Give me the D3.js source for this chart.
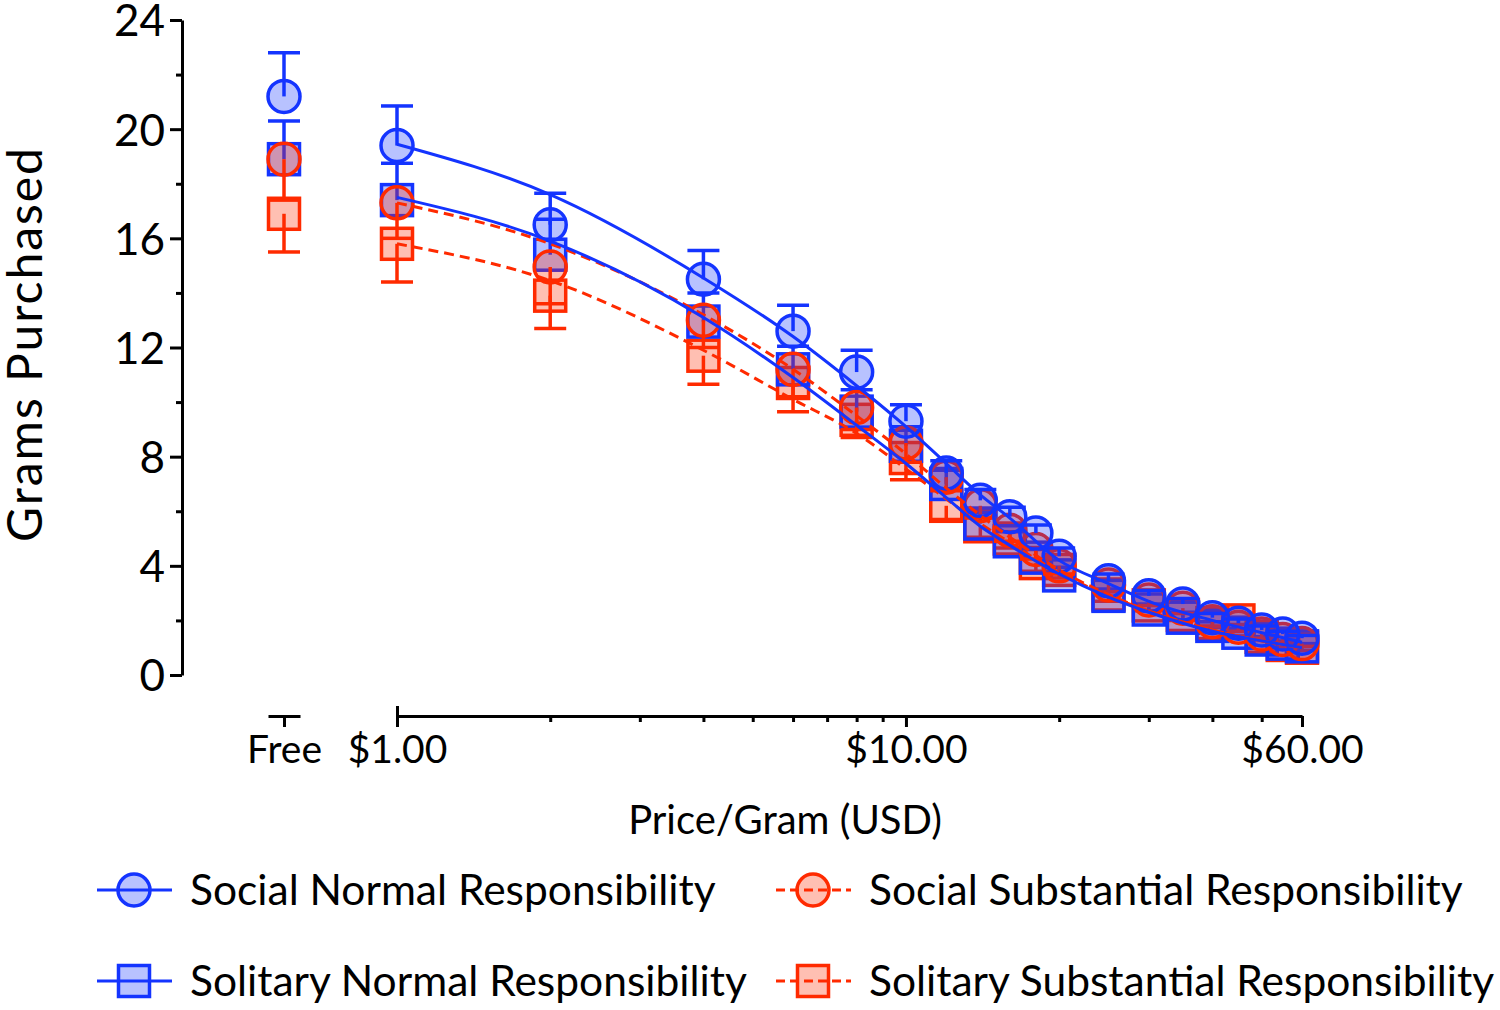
<!DOCTYPE html>
<html>
<head>
<meta charset="utf-8">
<script src="https://cdn.jsdelivr.net/npm/d3@7"></script>
<style>
  html, body { margin: 0; padding: 0; background: #fff; }
  svg { display: block; }
  text { font-family: Lato, "Open Sans", sans-serif; fill: #000; }
</style>
</head>
<body>
<svg id="chart" width="1500" height="1010"></svg>
<script>
// ---------------- DATA ----------------
const freeCategory = ["Free"];
const prices = [1, 2, 4, 6, 8, 10, 12, 14, 16, 18, 20, 25, 30, 35, 40, 45, 50, 55, 60];
const xTickValues = [1, 10, 60];
const xTickLabels = ["$1.00", "$10.00", "$60.00"];
const xMinorTicks = [2, 3, 4, 5, 6, 7, 8, 9, 20, 30, 40, 50];
const yTickValues = [0, 4, 8, 12, 16, 20, 24];
const yMinorTicks = [2, 6, 10, 14, 18, 22];

const seriesNames = [
  "Social Normal Responsibility",
  "Social Substantial Responsibility",
  "Solitary Normal Responsibility",
  "Solitary Substantial Responsibility"
];

// Means (grams) — Free value, then one per price
const socialNormalFree = 21.2;
const socialNormal = [19.4, 16.5, 14.5, 12.6, 11.1, 9.3, 7.4, 6.4, 5.8, 5.2, 4.35, 3.45, 2.9, 2.6, 2.1, 1.9, 1.65, 1.5, 1.35];
const solitaryNormalFree = 18.9;
const solitaryNormal = [17.4, 15.4, 12.95, 11.2, 9.65, 8.4, 7.0, 5.55, 4.9, 4.3, 3.65, 2.9, 2.4, 2.1, 1.8, 1.55, 1.3, 1.15, 1.05];
const socialSubstantialFree = 18.9;
const socialSubstantial = [17.3, 14.95, 13.0, 11.2, 9.8, 8.5, 7.25, 6.2, 5.3, 4.6, 4.0, 3.3, 2.75, 2.45, 1.95, 1.75, 1.5, 1.3, 1.15];
const solitarySubstantialFree = 16.9;
const solitarySubstantial = [15.8, 13.9, 11.7, 10.7, 9.35, 7.95, 6.2, 5.45, 5.0, 4.1, 3.85, 2.95, 2.55, 2.2, 1.9, 2.0, 1.4, 1.1, 1.0];

// SEM (grams)
const socialNormalFreeSem = 1.6;
const socialNormalSem = [1.45, 1.15, 1.05, 0.95, 0.8, 0.6, 0.45, 0.4, 0.35, 0.3, 0.3, 0.25, 0.2, 0.2, 0.15, 0.15, 0.15, 0.1, 0.1];
const solitaryNormalFreeSem = 1.4;
const solitaryNormalSem = [1.35, 1.3, 1.05, 0.85, 0.8, 0.7, 0.5, 0.4, 0.35, 0.3, 0.3, 0.25, 0.2, 0.2, 0.15, 0.15, 0.1, 0.1, 0.1];
const socialSubstantialFreeSem = 1.5;
const socialSubstantialSem = [1.3, 1.35, 1.0, 1.0, 0.8, 0.7, 0.5, 0.45, 0.4, 0.35, 0.3, 0.25, 0.2, 0.2, 0.15, 0.15, 0.15, 0.1, 0.1];
const solitarySubstantialFreeSem = 1.4;
const solitarySubstantialSem = [1.4, 1.2, 1.05, 1.05, 0.65, 0.8, 0.5, 0.4, 0.35, 0.3, 0.3, 0.25, 0.2, 0.2, 0.15, 0.15, 0.1, 0.1, 0.1];

// Fitted demand curves
const fitPrices = [1, 2, 4, 6, 8, 10, 12, 14, 16, 20, 25, 30, 40, 50, 60];
const socialNormalFit = [19.45, 17.6, 14.55, 12.4, 10.6, 9.1, 7.75, 6.6, 5.75, 4.2, 3.35, 2.7, 2.0, 1.55, 1.2];
const solitaryNormalFit = [17.5, 15.9, 13.1, 10.9, 9.15, 7.75, 6.5, 5.45, 4.75, 3.7, 2.85, 2.3, 1.6, 1.25, 1.0];
const socialSubstantialFit = [17.3, 15.8, 13.2, 11.2, 9.5, 8.1, 6.85, 5.85, 5.05, 3.85, 2.95, 2.35, 1.65, 1.25, 1.0];
const solitarySubstantialFit = [15.8, 14.45, 11.9, 10.1, 8.85, 7.55, 6.45, 5.55, 4.85, 3.75, 2.9, 2.35, 1.65, 1.25, 1.0];

// ---------------- STYLE ----------------
const BLUE = "#1434ff";
const RED = "#ff2a00";

const series = [
  { name: seriesNames[3], shape: "square", color: RED, dash: true, dir: 1,
    free: solitarySubstantialFree, freeSem: solitarySubstantialFreeSem, vals: solitarySubstantial, sem: solitarySubstantialSem, fit: solitarySubstantialFit },
  { name: seriesNames[2], shape: "square", color: BLUE, dash: false, dir: -1,
    free: solitaryNormalFree, freeSem: solitaryNormalFreeSem, vals: solitaryNormal, sem: solitaryNormalSem, fit: solitaryNormalFit },
  { name: seriesNames[1], shape: "circle", color: RED, dash: true, dir: 1,
    free: socialSubstantialFree, freeSem: socialSubstantialFreeSem, vals: socialSubstantial, sem: socialSubstantialSem, fit: socialSubstantialFit },
  { name: seriesNames[0], shape: "circle", color: BLUE, dash: false, dir: -1,
    free: socialNormalFree, freeSem: socialNormalFreeSem, vals: socialNormal, sem: socialNormalSem, fit: socialNormalFit }
];

// ---------------- SCALES ----------------
const svg = d3.select("#chart");
const y = d3.scaleLinear().domain([0, 24]).range([675, 20]);
const x = d3.scaleLog().domain([1, 60]).range([397, 1302]);
const xFree = d3.scalePoint().domain(freeCategory).range([268, 300]).padding(0.5);

const AX = 3;

// ---------------- AXES ----------------
const yAxisG = svg.append("g").attr("transform", "translate(182,0)")
  .call(d3.axisLeft(y).tickValues(yTickValues).tickSize(12).tickSizeOuter(0).tickPadding(5));
yAxisG.selectAll("text").style("font-size", "44px").attr("dy", "0.36em");
const yMinorG = svg.append("g").attr("transform", "translate(182,0)")
  .call(d3.axisLeft(y).tickValues(yMinorTicks).tickSize(6).tickFormat(""));
yMinorG.select(".domain").remove();

const xAxisG = svg.append("g").attr("transform", "translate(0,716)")
  .call(d3.axisBottom(x).tickValues(xTickValues).tickSize(11).tickSizeOuter(0).tickPadding(8)
    .tickFormat(d => xTickLabels[xTickValues.indexOf(d)]));
xAxisG.selectAll("text").style("font-size", "39px");
const xMinorG = svg.append("g").attr("transform", "translate(0,716)")
  .call(d3.axisBottom(x).tickValues(xMinorTicks).tickSize(6).tickFormat(""));
xMinorG.select(".domain").remove();
const xTopG = svg.append("g").attr("transform", "translate(0,716)")
  .call(d3.axisTop(x).tickValues([1]).tickSize(10).tickFormat(""));
xTopG.select(".domain").remove();

const freeAxisG = svg.append("g").attr("transform", "translate(0,716)")
  .call(d3.axisBottom(xFree).tickSize(11).tickSizeOuter(0).tickPadding(8));
freeAxisG.selectAll("text").style("font-size", "39px");

svg.selectAll(".domain, .tick line").attr("stroke", "#000").attr("stroke-width", AX);
svg.selectAll(".tick text").attr("fill", "#000");

// Axis titles
svg.append("text").attr("transform", "translate(42,345) rotate(-90)")
  .attr("text-anchor", "middle").style("font-size", "48px")
  .attr("textLength", 394).attr("lengthAdjust", "spacing").text("Grams Purchased");
svg.append("text").attr("x", 785).attr("y", 834)
  .attr("text-anchor", "middle").style("font-size", "40px").text("Price/Gram (USD)");

// ---------------- MARKS ----------------
const plot = svg.append("g");
const R = 16, S = 31, CAP = 16;

function drawMarker(g, shape, color, cx, cy) {
  if (shape === "circle") {
    g.append("circle").attr("cx", cx).attr("cy", cy).attr("r", R)
      .attr("fill", color).attr("fill-opacity", 0.3)
      .attr("stroke", color).attr("stroke-width", 3.5);
  } else {
    g.append("rect").attr("x", cx - S / 2).attr("y", cy - S / 2).attr("width", S).attr("height", S)
      .attr("fill", color).attr("fill-opacity", 0.3)
      .attr("stroke", color).attr("stroke-width", 3.5);
  }
}

series.forEach(s => {
  const g = plot.append("g");
  const pts = [{ px: xFree("Free"), v: s.free, e: s.freeSem }]
    .concat(prices.map((p, i) => ({ px: x(p), v: s.vals[i], e: s.sem[i] })));
  pts.forEach(d => {
    const y0 = y(d.v), y1 = y(d.v - s.dir * d.e);
    g.append("line").attr("x1", d.px).attr("x2", d.px).attr("y1", y0).attr("y2", y1)
      .attr("stroke", s.color).attr("stroke-width", 3.5);
    g.append("line").attr("x1", d.px - CAP).attr("x2", d.px + CAP).attr("y1", y1).attr("y2", y1)
      .attr("stroke", s.color).attr("stroke-width", 3.5);
  });
  pts.forEach(d => drawMarker(g, s.shape, s.color, d.px, y(d.v)));
});

// Fitted curves on top
const line = d3.line().x(d => x(d[0])).y(d => y(d[1])).curve(d3.curveMonotoneX);
[series[0], series[2], series[1], series[3]].forEach(s => {
  plot.append("path")
    .attr("d", line(fitPrices.map((p, i) => [p, s.fit[i]])))
    .attr("fill", "none").attr("stroke", s.color).attr("stroke-width", 3)
    .attr("stroke-dasharray", s.dash ? "10,6" : null);
});

// ---------------- LEGEND ----------------
const legendItems = [
  { s: series[3], lx: 97, ly: 890 },
  { s: series[2], lx: 776, ly: 890 },
  { s: series[1], lx: 97, ly: 981 },
  { s: series[0], lx: 776, ly: 981 }
];
const leg = svg.append("g");
legendItems.forEach(it => {
  const g = leg.append("g");
  drawMarker(g, it.s.shape, it.s.color, it.lx + 37, it.ly);
  g.append("line").attr("x1", it.lx).attr("x2", it.lx + 75).attr("y1", it.ly).attr("y2", it.ly)
    .attr("stroke", it.s.color).attr("stroke-width", 3)
    .attr("stroke-dasharray", it.s.dash ? "9,5" : null);
  g.append("text").attr("x", it.lx + 93).attr("y", it.ly + 15)
    .style("font-size", "42.5px").text(it.s.name);
});
</script>
</body>
</html>
